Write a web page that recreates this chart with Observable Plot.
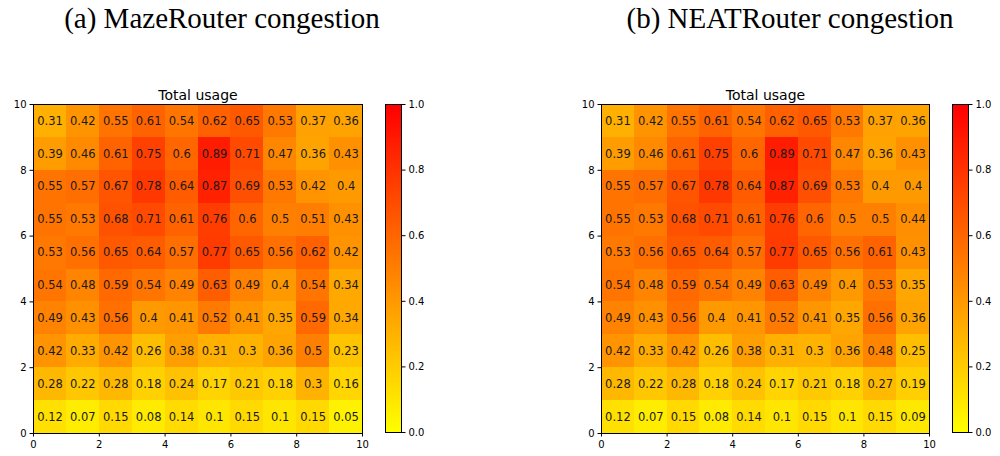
<!DOCTYPE html>
<html>
<head>
<meta charset="utf-8">
<script src="https://cdn.jsdelivr.net/npm/d3@7"></script>
<script src="https://cdn.jsdelivr.net/npm/@observablehq/plot@0.6"></script>
<style>
  html, body { margin: 0; padding: 0; background: #fff; }
  #root { position: relative; width: 1000px; height: 456px; overflow: hidden; }
  .abs { position: absolute; }
  .cap { font-family: "Liberation Serif", "Times New Roman", serif; font-size: 29px; line-height: 34px; color: #000; white-space: nowrap; transform: translateX(-50%); }
</style>
</head>
<body>
<div id="root"></div>
<script>
// Panel captions
const captions = ["(a) MazeRouter congestion", "(b) NEATRouter congestion"];
const plotTitle = "Total usage";
const axisTicks = [0, 2, 4, 6, 8, 10];
const colorTicks = [0, 0.2, 0.4, 0.6, 0.8, 1.0];

// Rows listed from top (y = 9) to bottom (y = 0); columns x = 0..9
const mazeUsage = [
  [0.31, 0.42, 0.55, 0.61, 0.54, 0.62, 0.65, 0.53, 0.37, 0.36],
  [0.39, 0.46, 0.61, 0.75, 0.6, 0.89, 0.71, 0.47, 0.36, 0.43],
  [0.55, 0.57, 0.67, 0.78, 0.64, 0.87, 0.69, 0.53, 0.42, 0.4],
  [0.55, 0.53, 0.68, 0.71, 0.61, 0.76, 0.6, 0.5, 0.51, 0.43],
  [0.53, 0.56, 0.65, 0.64, 0.57, 0.77, 0.65, 0.56, 0.62, 0.42],
  [0.54, 0.48, 0.59, 0.54, 0.49, 0.63, 0.49, 0.4, 0.54, 0.34],
  [0.49, 0.43, 0.56, 0.4, 0.41, 0.52, 0.41, 0.35, 0.59, 0.34],
  [0.42, 0.33, 0.42, 0.26, 0.38, 0.31, 0.3, 0.36, 0.5, 0.23],
  [0.28, 0.22, 0.28, 0.18, 0.24, 0.17, 0.21, 0.18, 0.3, 0.16],
  [0.12, 0.07, 0.15, 0.08, 0.14, 0.1, 0.15, 0.1, 0.15, 0.05]
];
const neatUsage = [
  [0.31, 0.42, 0.55, 0.61, 0.54, 0.62, 0.65, 0.53, 0.37, 0.36],
  [0.39, 0.46, 0.61, 0.75, 0.6, 0.89, 0.71, 0.47, 0.36, 0.43],
  [0.55, 0.57, 0.67, 0.78, 0.64, 0.87, 0.69, 0.53, 0.4, 0.4],
  [0.55, 0.53, 0.68, 0.71, 0.61, 0.76, 0.6, 0.5, 0.5, 0.44],
  [0.53, 0.56, 0.65, 0.64, 0.57, 0.77, 0.65, 0.56, 0.61, 0.43],
  [0.54, 0.48, 0.59, 0.54, 0.49, 0.63, 0.49, 0.4, 0.53, 0.35],
  [0.49, 0.43, 0.56, 0.4, 0.41, 0.52, 0.41, 0.35, 0.56, 0.36],
  [0.42, 0.33, 0.42, 0.26, 0.38, 0.31, 0.3, 0.36, 0.48, 0.25],
  [0.28, 0.22, 0.28, 0.18, 0.24, 0.17, 0.21, 0.18, 0.27, 0.19],
  [0.12, 0.07, 0.15, 0.08, 0.14, 0.1, 0.15, 0.1, 0.15, 0.09]
];

const colorOpts = { type: "linear", domain: [0, 1], range: ["#ffff00", "#ff0000"], interpolate: "rgb" };
const fontStyle = { fontFamily: "DejaVu Sans, sans-serif", fontSize: "10px", color: "#000", background: "transparent", overflow: "visible" };

function tidy(matrix) {
  const n = matrix.length;
  const out = [];
  matrix.forEach((row, r) => row.forEach((v, c) => out.push({ x: c, y: n - 1 - r, v })));
  return out;
}

function heatmap(matrix, mLeft) {
  const data = tidy(matrix);
  return Plot.plot({
    width: 380, height: 376,
    marginLeft: mLeft, marginRight: 18, marginTop: 24, marginBottom: 23,
    style: fontStyle,
    x: { domain: [0, 10], ticks: axisTicks, label: null },
    y: { domain: [0, 10], ticks: axisTicks, label: null },
    color: colorOpts,
    marks: [
      Plot.rect(data, { x1: "x", x2: d => d.x + 1, y1: "y", y2: d => d.y + 1, fill: "v", inset: 0, shapeRendering: "crispEdges" }),
      Plot.text(data, { x: d => d.x + 0.5, y: d => d.y + 0.5, text: d => String(d.v), fill: "#1a1a1a", fontSize: 11.5 }),
      Plot.frame({ stroke: "#000", strokeWidth: 1 }),
      Plot.axisX({ ticks: axisTicks, tickSize: 3.5, tickPadding: 3.5, label: null, fontSize: 10 }),
      Plot.axisY({ ticks: axisTicks, tickSize: 3.5, tickPadding: 3.5, label: null, fontSize: 10 }),
      Plot.text([plotTitle], { frameAnchor: "top", lineAnchor: "bottom", dy: -5, text: d => d, fontSize: 14, fill: "#000" })
    ]
  });
}

function colorbar(mLeft, w) {
  return Plot.plot({
    width: w, height: 376,
    marginLeft: mLeft, marginRight: w - mLeft - 16, marginTop: 24, marginBottom: 24,
    style: fontStyle,
    x: { domain: [0, 1], axis: null },
    y: { domain: [0, 1], ticks: colorTicks, label: null },
    color: colorOpts,
    marks: [
      Plot.raster({ x1: 0, x2: 1, y1: 0, y2: 1, width: 1, height: 256, fill: (x, y) => y, imageRendering: "auto" }),
      Plot.frame({ stroke: "#000", strokeWidth: 1 }),
      Plot.axisY({ anchor: "right", ticks: colorTicks, tickFormat: d3.format(".1f"), tickSize: 3.5, tickPadding: 3.5, label: null, fontSize: 10 })
    ]
  });
}

const root = document.getElementById("root");
function place(el, left, top) {
  const d = document.createElement("div");
  d.className = "abs";
  d.style.left = left + "px";
  d.style.top = top + "px";
  d.appendChild(el);
  root.appendChild(d);
  return d;
}
function caption(text, cx, top) {
  const d = document.createElement("div");
  d.className = "abs cap";
  d.style.left = cx + "px";
  d.style.top = top + "px";
  d.textContent = text;
  root.appendChild(d);
}

caption(captions[0], 222, 1);
caption(captions[1], 790, 1);
place(heatmap(mazeUsage, 33), 0, 80);
place(colorbar(15, 60), 370, 80);
place(heatmap(neatUsage, 34), 567, 80);
place(colorbar(15, 63), 937, 80);
</script>
</body>
</html>
